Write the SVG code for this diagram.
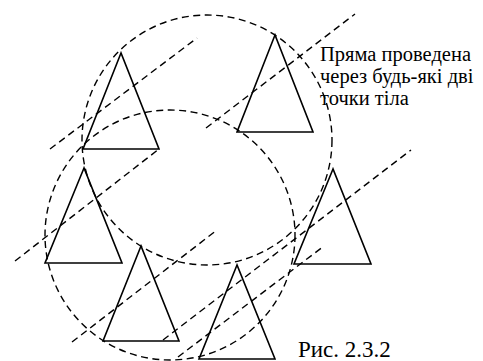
<svg xmlns="http://www.w3.org/2000/svg" width="483" height="361" viewBox="0 0 483 361">
<style>
.tri{fill:none;stroke:#000;stroke-width:1.6;stroke-linejoin:miter}
.dash{fill:none;stroke:#000;stroke-width:1.4;stroke-dasharray:7 4.5}
.lbl{font-family:"Liberation Serif","DejaVu Serif",serif;font-size:20.5px;fill:#000}
.cap{font-family:"Liberation Serif","DejaVu Serif",serif;font-size:23px;fill:#000}
</style>
<rect width="483" height="361" fill="#fff"/>
<g id="connectors">
<circle class="dash" cx="207" cy="140" r="125"/>
<circle class="dash" cx="170" cy="235" r="125"/>
<line class="dash" x1="50" y1="149" x2="197" y2="38"/>
<line class="dash" x1="206" y1="128" x2="355" y2="14"/>
<line class="dash" x1="15" y1="261" x2="159" y2="149"/>
<line class="dash" x1="72" y1="342" x2="217" y2="230"/>
<line class="dash" x1="163" y1="340" x2="411" y2="150"/>
<line class="dash" x1="178" y1="357" x2="324" y2="246"/>
</g>
<g id="t1"><polygon class="tri" points="121,53 83,149 159,149"/></g>
<g id="t2"><polygon class="tri" points="275,35 237,132 313,132"/></g>
<g id="t3"><polygon class="tri" points="84,168 45,263 122,263"/></g>
<g id="t4"><polygon class="tri" points="141,246 103,341 179,341"/></g>
<g id="t5"><polygon class="tri" points="237,265 199,359 275,359"/></g>
<g id="t6"><polygon class="tri" points="333,169 294,264 371,264"/></g>
<g id="label">
<text class="lbl" x="320" y="61">Пряма проведена</text>
<text class="lbl" x="320" y="83">через будь-які дві</text>
<text class="lbl" x="320" y="105">точки тіла</text>
</g>
<g id="caption"><text class="cap" x="298" y="357">Рис. 2.3.2</text></g>
</svg>
